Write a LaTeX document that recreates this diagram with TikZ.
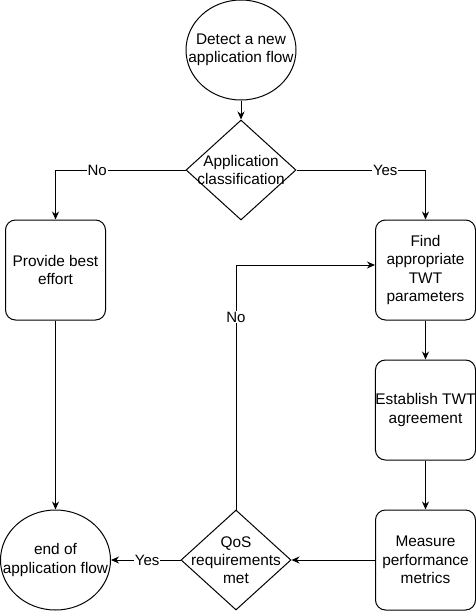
\documentclass[tikz,border=0pt]{standalone}
\usepackage{fontspec}
\setmainfont{Liberation Sans}
\usetikzlibrary{shapes.geometric,arrows.meta}
\tikzset{
  every picture/.style={x=1pt,y=-1pt},
  base/.style={draw=black,line width=1pt,inner sep=0pt,align=center,
    font=\fontsize{15.4}{18.3}\selectfont},
  oval/.style={base,ellipse,minimum width=110pt,minimum height=100pt},
  stepbox/.style={base,rectangle,rounded corners=10pt,minimum width=100pt,minimum height=100pt},
  decision/.style={base,diamond,aspect=1.1,minimum width=110pt,minimum height=100pt},
  conn/.style={line width=1pt,-{Stealth[length=8pt,width=7pt]}},
  elabel/.style={fill=white,inner sep=1pt,font=\fontsize{15}{17}\selectfont},
  txt/.style={align=center,font=\fontsize{15.4}{18.3}\selectfont}
}
\begin{document}
\begin{tikzpicture}
\useasboundingbox (0,0) rectangle (476,611);
\node[oval,label={[txt]center:Detect a new\\application flow}] (start) at (241,50) {};
\node[decision,label={[txt]center:Application\\classification}] (cls) at (241,170) {};
\node[stepbox] (best) at (55.5,270) {Provide best\\effort};
\node[stepbox] (find) at (425.5,270) {Find\\appropriate\\TWT\\parameters};
\node[stepbox] (estab) at (425.5,410) {Establish TWT\\agreement};
\node[stepbox] (meas) at (425.5,560) {Measure\\performance\\metrics};
\node[decision,label={[txt]center:QoS\\requirements\\met}] (qos) at (236,560) {};
\node[oval,label={[txt]center:end of\\application flow}] (end) at (55.5,560) {};
\coordinate (nocorner) at (236,265);

\draw[conn] (start) -- (cls);
\draw[conn] (cls.west) -| node[elabel,pos=0.34] {No} (best.north);
\draw[conn] (cls.east) -| node[elabel,pos=0.344] {Yes} (find.north);
\draw[conn] (best) -- (end);
\draw[conn] (find) -- (estab);
\draw[conn] (estab) -- (meas);
\draw[conn] (meas) -- (qos);
\draw[conn] (qos) -- node[elabel,pos=0.48] {Yes} (end);
\draw[conn] (qos.north) -- node[elabel,pos=0.787] {No} (nocorner) -- (find.west |- nocorner);
\end{tikzpicture}
\end{document}
